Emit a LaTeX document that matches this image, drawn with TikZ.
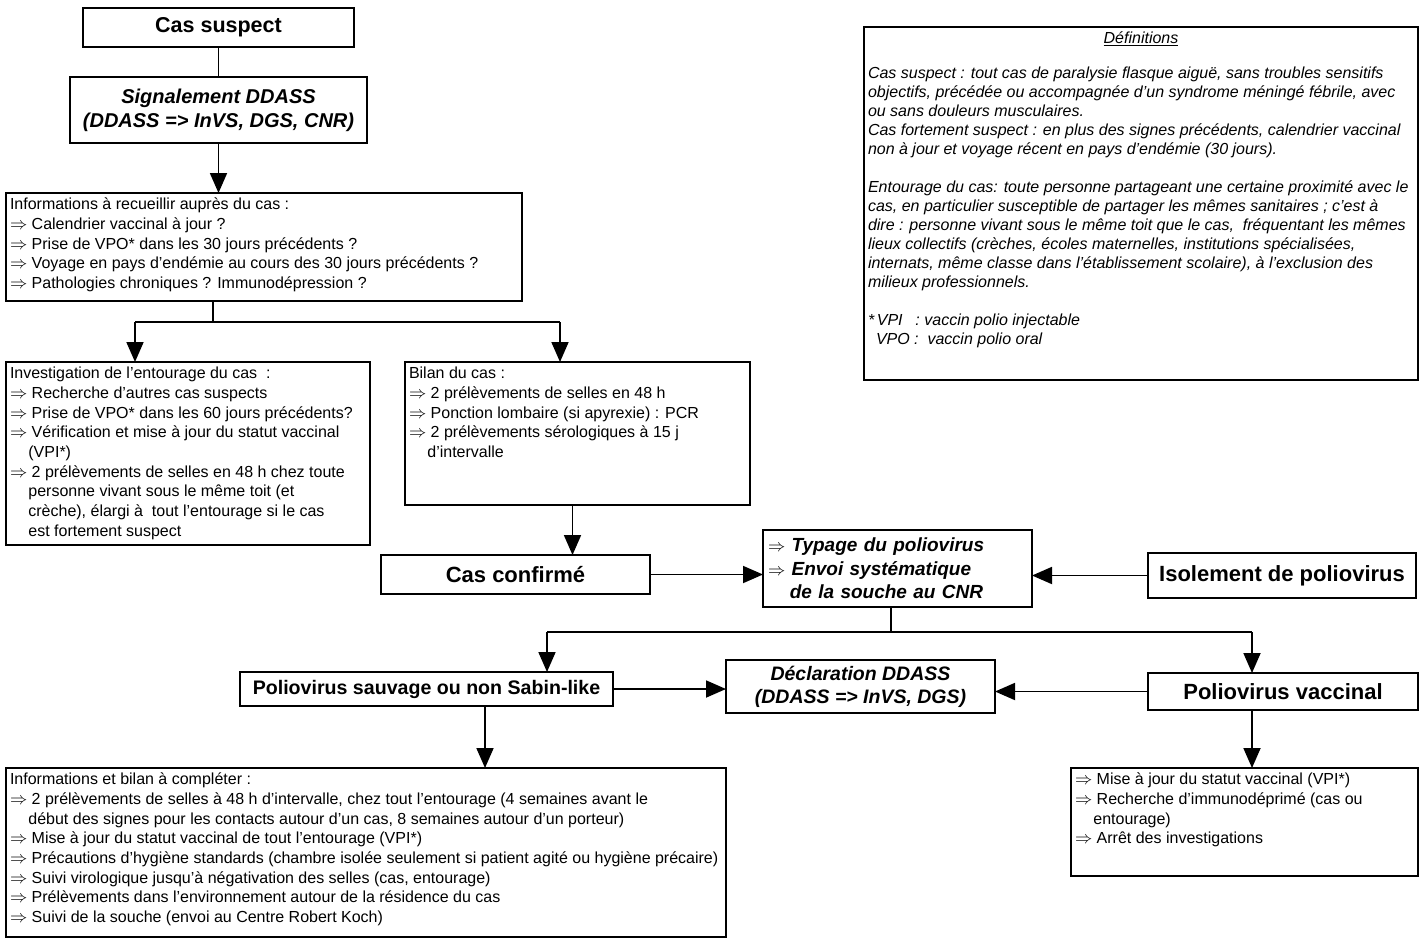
\documentclass[tikz,border=0pt]{standalone}
\usepackage{fontspec}
\setmainfont{Liberation Sans}
\usetikzlibrary{arrows.meta}
\newcommand{\imp}{$\Rightarrow$\ }
\newcommand{\ind}{\hspace*{1.15em}}

\begin{document}
\begin{tikzpicture}[x=1pt,y=-1pt,
    box/.style={draw, line width=1.8pt, anchor=north west, inner sep=0pt, outer sep=0pt},
    titre/.style={box, font=\fontsize{22}{24}\selectfont\bfseries},
    titreit/.style={box, align=center, font=\fontsize{19.5}{23}\selectfont\bfseries\itshape},
    liste/.style={box, inner xsep=4pt, inner ysep=5pt, font=\fontsize{16}{19.7}\selectfont},
    fleche/.style={-{Triangle[length=20pt,width=17pt]}, line width=1.8pt}]

    \useasboundingbox (0,0) rectangle (1427,938);

    % colonne de gauche
    \node[titre, minimum width=271pt, minimum height=39pt, font=\fontsize{21.5}{24}\selectfont\bfseries] (cs) at (83,8) {Cas suspect};
    \node[titreit, minimum width=297pt, minimum height=66pt, font=\fontsize{20}{24}\selectfont\bfseries\itshape] (sig) at (70,77) {Signalement DDASS\\(DDASS => InVS, DGS, CNR)};

    \node[liste] (info) at (6,193) {\parbox[t][98pt][t]{508pt}{Informations à recueillir auprès du cas :\\
        \imp Calendrier vaccinal à jour ?\\
        \imp Prise de VPO* dans les 30 jours précédents ?\\
        \imp Voyage en pays d'endémie au cours des 30 jours précédents ?\\
        \imp Pathologies chroniques ? Immunodépression ?}};

    \node[liste] (inv) at (6,362) {\parbox[t][173pt][t]{356pt}{Investigation de l'entourage du cas~ :\\
        \imp Recherche d'autres cas suspects\\
        \imp Prise de VPO* dans les 60 jours précédents?\\
        \imp Vérification et mise à jour du statut vaccinal\\
        \ind(VPI*)\\
        \imp 2 prélèvements de selles en 48 h chez toute\\
        \ind personne vivant sous le même toit (et\\
        \ind crèche), élargi à~ tout l'entourage si le cas\\
        \ind est fortement suspect}};

    \node[liste] (bil) at (405,362) {\parbox[t][133pt][t]{337pt}{Bilan du cas :\\
        \imp 2 prélèvements de selles en 48 h\\
        \imp Ponction lombaire (si apyrexie) : PCR\\
        \imp 2 prélèvements sérologiques à 15 j\\
        \ind d'intervalle}};

    % partie centrale
    \node[titre, minimum width=269pt, minimum height=39pt] (cc) at (381,555) {Cas confirmé};
    \node[box, text width=259pt, inner xsep=5pt, minimum height=77pt, align=left, font=\fontsize{19}{23.5}\selectfont\bfseries\itshape] (typ) at (763,530)
        {\imp Typage du poliovirus\\ \imp Envoi systématique\\ \ind de la souche au CNR};
    \node[titre, minimum width=268pt, minimum height=45pt] (iso) at (1148,553) {Isolement de poliovirus};

    \node[titre, minimum width=373pt, minimum height=34pt, font=\fontsize{19.6}{23}\selectfont\bfseries] (sau) at (240,672) {Poliovirus sauvage ou non Sabin-like};
    \node[titreit, minimum width=269pt, minimum height=53pt] (dec) at (726,660) {Déclaration DDASS\\(DDASS => InVS, DGS)};
    \node[titre, minimum width=270pt, minimum height=37pt] (vac) at (1148,673) {Poliovirus vaccinal};

    % bas
    \node[liste] (ib) at (6,768) {\parbox[t][159pt][t]{712pt}{Informations et bilan à compléter :\\
        \imp 2 prélèvements de selles à 48 h d'intervalle, chez tout l'entourage (4 semaines avant le\\
        \ind début des signes pour les contacts autour d'un cas, 8 semaines autour d'un porteur)\\
        \imp Mise à jour du statut vaccinal de tout l'entourage (VPI*)\\
        \imp Précautions d'hygiène standards (chambre isolée seulement si patient agité ou hygiène précaire)\\
        \imp Suivi virologique jusqu'à négativation des selles (cas, entourage)\\
        \imp Prélèvements dans l'environnement autour de la résidence du cas\\
        \imp Suivi de la souche (envoi au Centre Robert Koch)}};

    \node[liste] (fin) at (1071,768) {\parbox[t][98pt][t]{339pt}{\imp Mise à jour du statut vaccinal (VPI*)\\
        \imp Recherche d'immunodéprimé (cas ou\\
        \ind entourage)\\
        \imp Arrêt des investigations}};

    % definitions
    \node[liste, font=\fontsize{16}{19}\selectfont\itshape] (def) at (864,27) {\parbox[t][343pt][t]{546pt}{\centering\underline{Définitions}\par\vspace{16pt}\raggedright
        Cas suspect : tout cas de paralysie flasque aiguë, sans troubles sensitifs\\
        objectifs, précédée ou accompagnée d'un syndrome méningé fébrile, avec\\
        ou sans douleurs musculaires.\\
        Cas fortement suspect : en plus des signes précédents, calendrier vaccinal\\
        non à jour et voyage récent en pays d'endémie (30 jours).\\[19pt]
        Entourage du cas: toute personne partageant une certaine proximité avec le\\
        cas, en particulier susceptible de partager les mêmes sanitaires ; c'est à\\
        dire : personne vivant sous le même toit que le cas,~ fréquentant les mêmes\\
        lieux collectifs (crèches, écoles maternelles, institutions spécialisées,\\
        internats, même classe dans l'établissement scolaire), à l'exclusion des\\
        milieux professionnels.\\[19pt]
        *\,VPI\hspace{0.8em}: vaccin polio injectable\\
        \hspace*{0.5em}VPO :\ \ vaccin polio oral}};

    % liaisons
    \draw[line width=1.8pt] (cs) -- (sig);
    \draw[fleche] (sig) -- (sig.south |- info.north);

    \coordinate (r1) at (213,322);
    \coordinate (g1) at (135,322);
    \coordinate (d1) at (560,322);
    \draw[line width=1.8pt] (info.south -| r1) -- (r1);
    \draw[line width=1.8pt] (g1) -- (d1);
    \draw[fleche] (g1) -- (g1 |- inv.north);
    \draw[fleche] (d1) -- (d1 |- bil.north);

    \draw[fleche] ([xshift=-5pt]bil.south) -- ([xshift=-5pt]bil.south |- cc.north);
    \draw[fleche] (cc.east) -- (cc.east -| typ.west);
    \draw[fleche] (iso.west) -- (iso.west -| typ.east);

    \coordinate (r2) at (891,632);
    \coordinate (g2) at (547,632);
    \coordinate (d2) at (1252,632);
    \draw[line width=1.8pt] (typ.south -| r2) -- (r2);
    \draw[line width=1.8pt] (g2) -- (d2);
    \draw[fleche] (g2) -- (g2 |- sau.north);
    \draw[fleche] (d2) -- (d2 |- vac.north);

    \draw[fleche] (sau.east) -- (sau.east -| dec.west);
    \draw[fleche] (vac.west) -- (vac.west -| dec.east);
    \draw[fleche] ([xshift=58.5pt]sau.south) -- ([xshift=58.5pt]sau.south |- ib.north);
    \draw[fleche] ([xshift=-31pt]vac.south) -- ([xshift=-31pt]vac.south |- fin.north);
\end{tikzpicture}
\end{document}
